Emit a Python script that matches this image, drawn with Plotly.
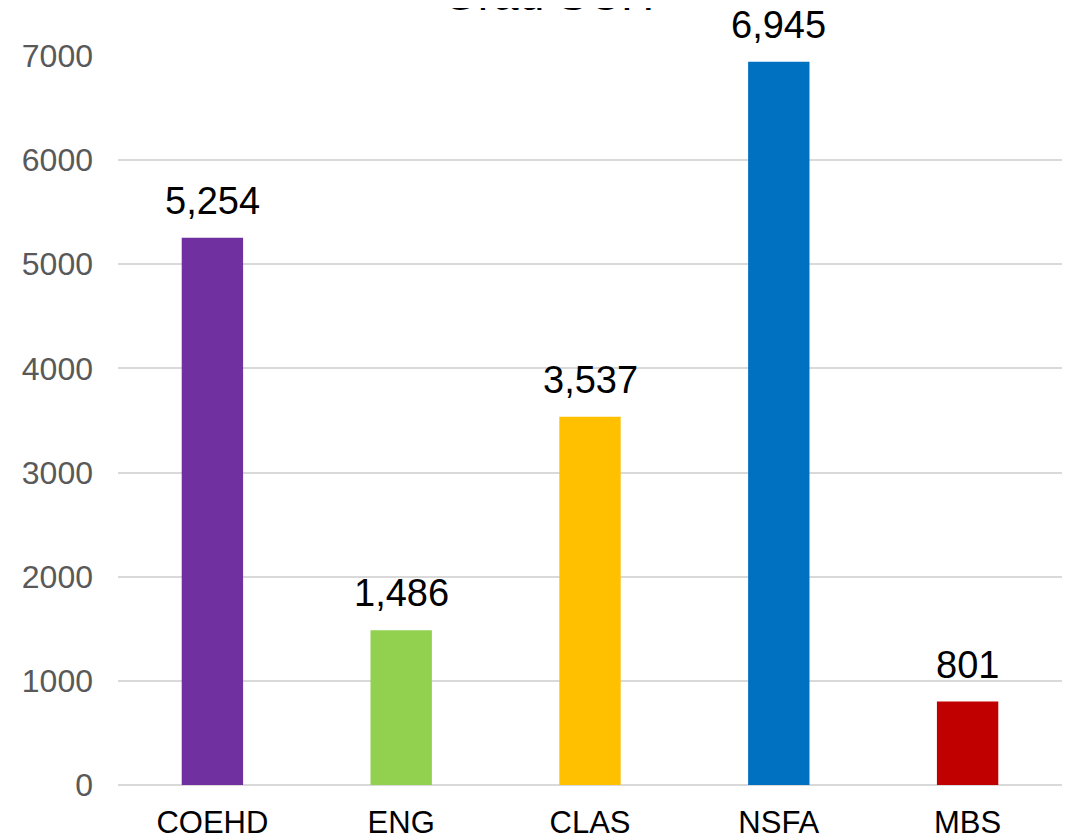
import plotly.graph_objects as go

categories = ["COEHD", "ENG", "CLAS", "NSFA", "MBS"]
values = [5254, 1486, 3537, 6945, 801]
colors = ["#7030A0", "#92D050", "#FFC000", "#0070C0", "#C00000"]
title_text = "Grad SCH"

FONT = "Liberation Sans, Arial, sans-serif"

fig = go.Figure(go.Bar(
    x=categories, y=values, marker=dict(color=colors, line=dict(width=0)),
    width=0.325, hoverinfo="skip",
))

for c, v in zip(categories, values):
    fig.add_annotation(x=c, y=v, text=f"{v:,}", showarrow=False,
                       yanchor="bottom", yshift=14,
                       font=dict(family=FONT, size=38, color="#000000"))

fig.add_annotation(xref="paper", yref="paper", x=(548 - 118) / 944, y=1,
                   xanchor="center", yanchor="bottom", yshift=34,
                   text=title_text, showarrow=False,
                   font=dict(family=FONT, size=46, color="#000000"))

fig.update_layout(
    width=1076, height=839,
    margin=dict(l=110, r=22, t=48, b=62, autoexpand=False),
    paper_bgcolor="white", plot_bgcolor="white",
    showlegend=False,
    xaxis=dict(tickfont=dict(family=FONT, size=31, color="#000000"),
               showgrid=False, showline=False, ticks="", ticklabelstandoff=16),
    yaxis=dict(range=[0, 7000], dtick=1000, tickformat="d",
               tickfont=dict(family=FONT, size=32, color="#595959"),
               showgrid=True, gridcolor="#D9D9D9", gridwidth=2,
               zeroline=True, zerolinecolor="#D9D9D9", zerolinewidth=2,
               showline=False, ticks="", ticklabelstandoff=24),
)

fig.write_html("out.html")
